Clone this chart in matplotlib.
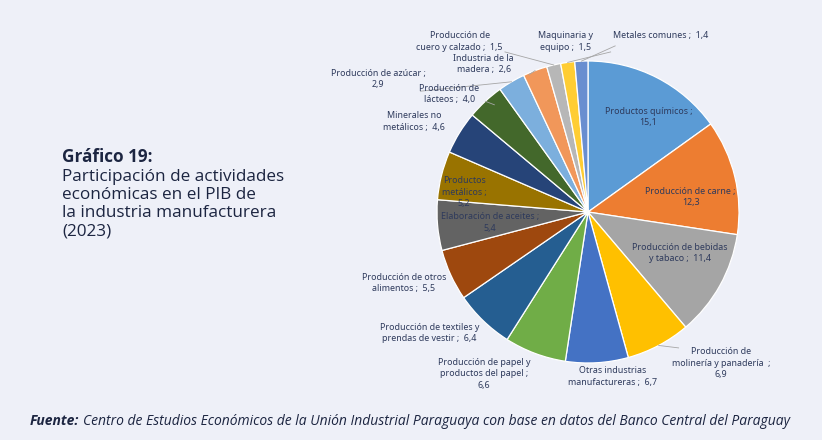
import numpy as np
import matplotlib.pyplot as plt

# ───────────── data ─────────────
sectors = ['Productos químicos', 'Producción de carne', 'Producción de bebidas\ny tabaco',
           'Producción de\nmolinería y panadería', 'Otras industrias\nmanufactureras',
           'Producción de papel y\nproductos del papel', 'Producción de textiles y\nprendas de vestir',
           'Producción de otros\nalimentos', 'Elaboración de aceites', 'Productos\nmetálicos',
           'Minerales no\nmetálicos', 'Producción de\nlácteos', 'Producción de azúcar',
           'Industria de la\nmadera', 'Producción de\ncuero y calzado', 'Maquinaria y\nequipo',
           'Metales comunes']
shares = [15.1, 12.3, 11.4, 6.9, 6.7, 6.6, 6.4, 5.5, 5.4, 5.2, 4.6, 4.0, 2.9, 2.6, 1.5, 1.5, 1.4]

title_bold = 'Gráfico 19:'
title_text = 'Participación de actividades\neconómicas en el PIB de\nla industria manufacturera\n(2023)'
src_bold = 'Fuente:'
src_text = ('Centro de Estudios Económicos de la Unión Industrial Paraguaya '
            'con base en datos del Banco Central del Paraguay')

# ───────────── styling / layout ─────────────
colors = ['#5B9BD5', '#ED7D31', '#A5A5A5', '#FFC000', '#4472C4', '#70AD47', '#255E91',
          '#9E480E', '#636363', '#997300', '#264478', '#43682B', '#7CAFDD', '#F1975A',
          '#B7B7B7', '#FFCD33', '#698ED0']
# label text template: how value is joined to the name
label_fmt = ['{} ;\n{}', '{} ;\n{}', '{} ;  {}', '{}  ;\n{}', '{} ;  {}', '{} ;\n{}',
             '{} ;  {}', '{} ;  {}', '{} ;\n{}', '{} ;\n{}', '{} ;  {}', '{} ;  {}',
             '{} ;\n{}', '{} ;  {}', '{} ;  {}', '{} ;  {}', '{} ;  {}']
# label centres in pie-radius units
label_xy = [(0.40, 0.63), (0.68, 0.10), (0.61, -0.27), (0.88, -1.00), (0.16, -1.09),
            (-0.69, -1.07), (-1.05, -0.80), (-1.22, -0.47), (-0.65, -0.07), (-0.82, 0.13),
            (-1.15, 0.60), (-0.92, 0.78), (-1.39, 0.88), (-0.69, 0.98), (-0.85, 1.13),
            (-0.15, 1.13), (0.48, 1.17)]
leader = [False, False, False, True, False, False, False, False, False, False,
          False, True, True, True, True, True, True]

bg = '#EEF0F8'
txt = '#2E3A5C'
navy = '#1C2541'
W, H = 822, 440

fig = plt.figure(figsize=(W / 100, H / 100), dpi=100, facecolor=bg)
cx, cy, r = 588, 212, 151
ax = fig.add_axes([(cx - r) / W, (H - cy - r) / H, 2 * r / W, 2 * r / H])
ax.set_facecolor(bg)

wedges, _ = ax.pie(shares, colors=colors, startangle=90, counterclock=False, radius=1,
                   wedgeprops=dict(edgecolor='white', linewidth=0.9))
ax.set_xlim(-1, 1); ax.set_ylim(-1, 1)
ax.set_aspect('equal')
ax.axis('off')

for w, name, val, fmt, (lx, ly), ld in zip(wedges, sectors, shares, label_fmt, label_xy, leader):
    s = fmt.format(name, f'{val:.1f}'.replace('.', ','))
    ax.text(lx, ly, s, ha='center', va='center', fontsize=6.4, color=txt,
            family='Noto Sans', linespacing=1.35, clip_on=False)
    if ld:
        a = np.deg2rad((w.theta1 + w.theta2) / 2)
        ex, ey = np.cos(a), np.sin(a)
        # end of leader near the text edge
        tx = lx + (0.0 if abs(lx) < 0.3 else (0.28 if lx < 0 else -0.28))
        ty = ly - 0.08 if ly > 0 else ly + 0.1
        if ly > 0 and abs(lx) < 1.0:
            tx, ty = lx + (0.3 if lx < 0 else -0.3), ly - 0.07
        ax.plot([ex, tx], [ey, ty], color='#A6A6A6', lw=0.6, clip_on=False)

# ───────────── title block ─────────────
fig.text(62 / W, 1 - 157 / H, title_bold, fontsize=12.3, fontweight='bold',
         color=navy, family='Open Sans', va='center')
fig.text(62 / W, 1 - 204 / H, title_text,
         fontsize=12.3, color=navy, family='Open Sans', va='center', linespacing=1.17)

# ───────────── source (scaled to span the reference width) ─────────────
fy = 1 - 421 / H
fs = 8.6
for _ in range(3):
    for t in list(fig.texts[2:]):
        t.remove()
    t1 = fig.text(30 / W, fy, src_bold, fontsize=fs, fontweight='bold', style='italic',
                  color=navy, family='Open Sans', va='center')
    fig.canvas.draw()
    bb = t1.get_window_extent()
    t2 = fig.text((bb.x1 + 4) / W, fy, src_text, fontsize=fs, style='italic',
                  color=navy, family='Open Sans', va='center')
    fig.canvas.draw()
    x1 = t2.get_window_extent().x1
    fs *= (792 - 30) / (x1 - 30)

fig.savefig('out.png', dpi=100, facecolor=bg)
